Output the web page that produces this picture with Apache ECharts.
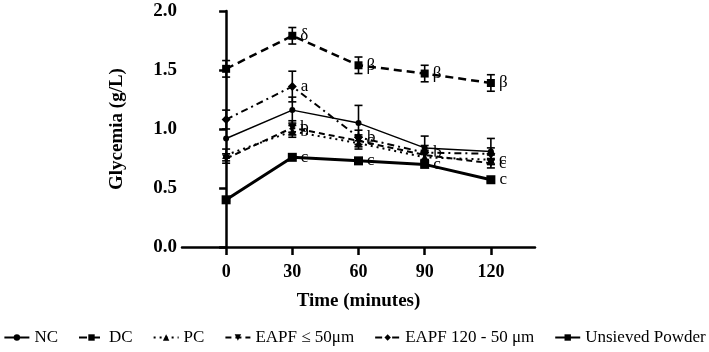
<!DOCTYPE html>
<html>
<head>
<meta charset="utf-8">
<script src="https://cdn.jsdelivr.net/npm/echarts@6/dist/echarts.min.js"></script>
<style>html,body{margin:0;padding:0;background:#fff;}#c{width:709px;height:352px;}</style>
</head>
<body>
<div id="c"></div>
<script>
const times = [0, 30, 60, 90, 120];
const yTicks = [0, 0.5, 1.0, 1.5, 2.0];

const ncMean = [0.92, 1.16, 1.05, 0.84, 0.81];
const ncErr = [0.00, 0.11, 0.15, 0.10, 0.11];
const ncLetters = ['', '', '', '', ''];

const dcMean = [1.51, 1.79, 1.54, 1.47, 1.39];
const dcErr = [0.07, 0.07, 0.07, 0.07, 0.07];
const dcLetters = ['', 'δ', 'β', 'β', 'β'];

const pcMean = [0.78, 0.98, 0.88, 0.76, 0.74];
const pcErr = [0.05, 0.05, 0.05, 0.04, 0.04];
const pcLetters = ['', 'b', '', '', 'c'];

const e50Mean = [0.75, 1.01, 0.90, 0.78, 0.71];
const e50Err = [0.04, 0.06, 0.05, 0.04, 0.04];
const e50Letters = ['', 'b', 'c', '', 'c'];

const e120Mean = [1.08, 1.36, 0.93, 0.80, 0.79];
const e120Err = [0.08, 0.13, 0.06, 0.06, 0.05];
const e120Letters = ['', 'a', 'b', 'b', ''];

const unMean = [0.40, 0.76, 0.73, 0.70, 0.57];
const unErr = [0.01, 0.01, 0.02, 0.02, 0.02];
const unLetters = ['', 'c', 'c', 'c', 'c'];

const FONT = 'Liberation Serif';

const groups = [
  {name: 'NC', mean: ncMean, err: ncErr, letters: ncLetters, symbol: 'circle', size: 6, rot: 0, line: {width: 1.5, type: 'solid'}},
  {name: 'DC', mean: dcMean, err: dcErr, letters: dcLetters, symbol: 'rect', size: 8, rot: 0, line: {width: 2.5, type: [8, 5]}},
  {name: 'PC', mean: pcMean, err: pcErr, letters: pcLetters, symbol: 'triangle', size: 8, rot: 0, line: {width: 2, type: [2, 4]}},
  {name: 'EAPF ≤ 50μm', mean: e50Mean, err: e50Err, letters: e50Letters, symbol: 'triangle', size: 8, rot: 180, line: {width: 2, type: [6, 4]}},
  {name: 'EAPF 120 - 50 μm', mean: e120Mean, err: e120Err, letters: e120Letters, symbol: 'diamond', size: 9, rot: 0, line: {width: 2, type: [7, 4, 2, 4]}},
  {name: 'Unsieved Powder', mean: unMean, err: unErr, letters: unLetters, symbol: 'rect', size: 9, rot: 0, line: {width: 3, type: 'solid'}}
];

const series = [];
groups.forEach(g => {
  series.push({
    name: g.name,
    type: 'line',
    data: times.map((t, i) => [t, g.mean[i]]),
    symbol: g.symbol,
    symbolSize: g.size,
    symbolRotate: g.rot,
    showAllSymbol: true,
    lineStyle: {color: '#000', width: g.line.width, type: g.line.type},
    itemStyle: {color: '#000'},
    label: {
      show: true,
      position: 'right',
      distance: 4,
      color: '#000',
      fontFamily: FONT,
      fontSize: 17,
      formatter: p => g.letters[p.dataIndex]
    },
    emphasis: {disabled: true},
    z: 3
  });
  series.push({
    name: g.name + ' error',
    type: 'custom',
    data: times.map((t, i) => [t, g.mean[i] - g.err[i], g.mean[i] + g.err[i]]),
    encode: {x: 0, y: [1, 2]},
    renderItem: function (params, api) {
      const x = api.value(0);
      const lo = api.coord([x, api.value(1)]);
      const hi = api.coord([x, api.value(2)]);
      const w = 4;
      const st = {stroke: '#000', lineWidth: 1.6};
      if (Math.abs(hi[1] - lo[1]) < 1) return null;
      return {
        type: 'group',
        children: [
          {type: 'line', shape: {x1: lo[0], y1: lo[1], x2: hi[0], y2: hi[1]}, style: st},
          {type: 'line', shape: {x1: lo[0] - w, y1: lo[1], x2: lo[0] + w, y2: lo[1]}, style: st},
          {type: 'line', shape: {x1: hi[0] - w, y1: hi[1], x2: hi[0] + w, y2: hi[1]}, style: st}
        ]
      };
    },
    z: 2
  });
});

const chart = echarts.init(document.getElementById('c'), null, {renderer: 'canvas'});
chart.setOption({
  animation: false,
  backgroundColor: '#fff',
  grid: {left: 182, right: 174, top: 11, bottom: 105, containLabel: false},
  legend: {
    data: groups.map(g => g.name),
    bottom: 6,
    left: 'center',
    width: 709,
    padding: [0, 2, 0, 2],
    itemWidth: 25,
    itemHeight: 8,
    itemGap: 20,
    textStyle: {fontFamily: FONT, fontSize: 17, color: '#000'}
  },
  xAxis: {
    type: 'value',
    min: -20,
    max: 140,
    name: 'Time (minutes)',
    nameLocation: 'middle',
    nameGap: 45,
    nameTextStyle: {fontFamily: FONT, fontSize: 19, fontWeight: 'bold', color: '#000'},
    splitLine: {show: false},
    axisLine: {show: true, onZero: false, lineStyle: {color: '#000', width: 2.5}},
    axisTick: {show: true, customValues: times, length: 8, lineStyle: {color: '#000', width: 2.5}},
    axisLabel: {customValues: times, margin: 16, fontFamily: FONT, fontSize: 18, fontWeight: 'bold', color: '#000'}
  },
  yAxis: {
    type: 'value',
    min: 0,
    max: 2,
    interval: 0.5,
    name: 'Glycemia (g/L)',
    nameLocation: 'middle',
    nameGap: 55,
    nameRotate: 90,
    nameTextStyle: {fontFamily: FONT, fontSize: 19, fontWeight: 'bold', color: '#000'},
    splitLine: {show: false},
    axisLine: {show: true, lineStyle: {color: '#000', width: 2.5}},
    axisTick: {show: true, length: 7, lineStyle: {color: '#000', width: 2.5}},
    axisLabel: {margin: 5, fontFamily: FONT, fontSize: 19, fontWeight: 'bold', color: '#000', formatter: v => v.toFixed(1)}
  },
  series: series
});
</script>
</body>
</html>
